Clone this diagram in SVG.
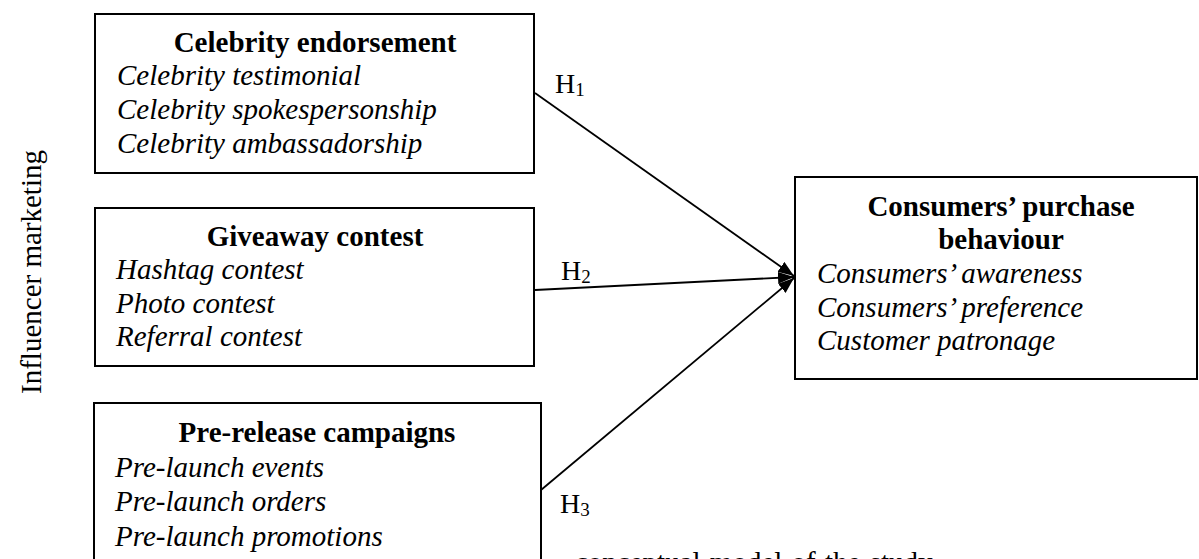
<svg xmlns="http://www.w3.org/2000/svg" width="1199" height="559" viewBox="0 0 1199 559">
<style>
.box{fill:#fff;stroke:#000;stroke-width:2}
.t{font-family:"Liberation Serif","Times New Roman",serif;font-size:29px;fill:#000}
.b{font-weight:bold;text-anchor:middle}
.i{font-style:italic}
.h{font-family:"Liberation Serif","Times New Roman",serif;font-size:28px;fill:#000}
.sub{font-size:19px}
.con{stroke:#000;stroke-width:1.8;fill:none;marker-end:url(#ah)}
</style>
<defs>
<marker id="ah" markerUnits="userSpaceOnUse" markerWidth="17" markerHeight="13" refX="16" refY="6" orient="auto">
<path d="M0,0 L16,6 L0,12 z" fill="#000"/>
</marker>
</defs>
<rect width="1199" height="559" fill="#fff"/>
<text class="t" x="575" y="572" word-spacing="2">conceptual model of the study</text>
<g id="label-influencer">
<text class="t" font-size="32" text-anchor="middle" transform="translate(41,272) rotate(-90)">Influencer marketing</text>
</g>
<g id="connectors">
<line class="con" x1="535" y1="93" x2="794" y2="276"/>
<line class="con" x1="535" y1="290" x2="794" y2="277"/>
<line class="con" x1="541" y1="490" x2="794" y2="278"/>
<text class="h" x="555" y="93">H<tspan class="sub" dy="3">1</tspan></text>
<text class="h" x="561" y="280">H<tspan class="sub" dy="3">2</tspan></text>
<text class="h" x="560" y="513">H<tspan class="sub" dy="3">3</tspan></text>
</g>
<g id="node-celebrity">
<rect class="box" x="95" y="14" width="439" height="159"/>
<text class="t b" x="315" y="52">Celebrity endorsement</text>
<text class="t i" x="117" y="85">Celebrity testimonial</text>
<text class="t i" x="117" y="119">Celebrity spokespersonship</text>
<text class="t i" x="117" y="153">Celebrity ambassadorship</text>
</g>
<g id="node-giveaway">
<rect class="box" x="95" y="208" width="439" height="158"/>
<text class="t b" x="315" y="246">Giveaway contest</text>
<text class="t i" x="116" y="279">Hashtag contest</text>
<text class="t i" x="116" y="313">Photo contest</text>
<text class="t i" x="116" y="346">Referral contest</text>
</g>
<g id="node-prerelease">
<rect class="box" x="94" y="403" width="447" height="170"/>
<text class="t b" x="317" y="442">Pre-release campaigns</text>
<text class="t i" x="115" y="477">Pre-launch events</text>
<text class="t i" x="115" y="511">Pre-launch orders</text>
<text class="t i" x="115" y="546">Pre-launch promotions</text>
</g>
<g id="node-consumers">
<rect class="box" x="795" y="177" width="402" height="202"/>
<text class="t b" x="1001" y="216">Consumers’ purchase</text>
<text class="t b" x="1001" y="249">behaviour</text>
<text class="t i" x="817" y="283">Consumers’ awareness</text>
<text class="t i" x="817" y="317">Consumers’ preference</text>
<text class="t i" x="817" y="350">Customer patronage</text>
</g>
</svg>
